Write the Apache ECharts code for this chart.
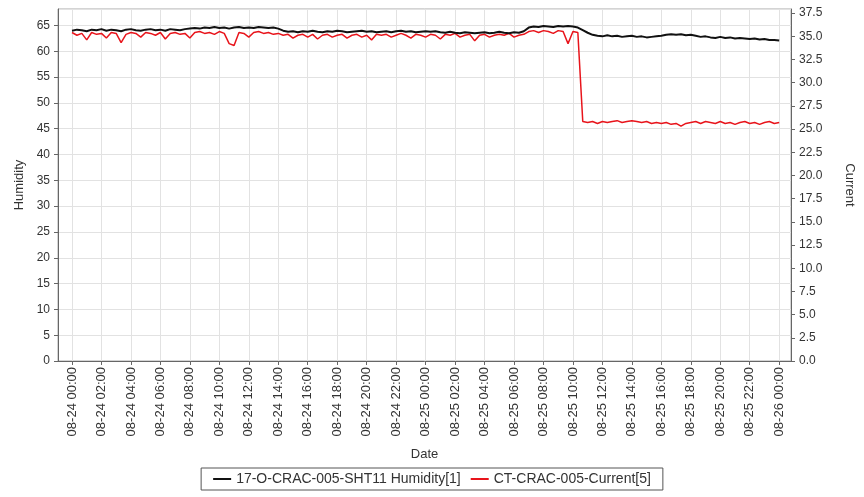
<!DOCTYPE html>
<html>
<head>
<meta charset="utf-8">
<script src="https://cdn.jsdelivr.net/npm/echarts@6/dist/echarts.min.js"></script>
<style>html,body{margin:0;padding:0;background:#fff;}#c{width:864px;height:497px;}</style>
</head>
<body>
<div id="c"></div>
<script>
// Sample times: every 20 minutes from 08-24 00:00 (hours since start)
const stepHours = 1 / 3;
const seriesNames = ['17-O-CRAC-005-SHT11 Humidity[1]', 'CT-CRAC-005-Current[5]'];
const xTickHours = [0,2,4,6,8,10,12,14,16,18,20,22,24,26,28,30,32,34,36,38,40,42,44,46,48];
const humidity = [
  64.0,64.2,64.1,63.9,64.2,64.1,64.3,64.0,64.2,64.1,63.9,64.2,64.3,64.1,64.0,64.2,64.3,64.1,64.2,64.0,64.3,64.2,64.1,64.3,64.4,
  64.5,64.4,64.6,64.5,64.7,64.5,64.6,64.4,64.6,64.7,64.5,64.6,64.5,64.7,64.6,64.5,64.6,64.4,
  64.0,63.8,63.9,63.7,63.9,63.8,64.0,63.8,63.7,63.9,
  63.8,64.0,63.9,63.7,63.8,63.9,64.0,63.8,63.9,63.7,
  63.8,63.9,63.7,63.9,64.0,63.8,63.9,63.7,63.8,63.9,
  63.8,63.9,63.7,63.6,63.8,63.6,63.5,63.7,63.6,63.5,
  63.6,63.7,63.5,63.6,63.8,63.6,63.5,63.7,63.6,63.9,
  64.6,64.8,64.7,64.9,64.8,64.7,64.9,64.8,64.9,64.8,
  64.6,64.1,63.6,
  63.2,63.0,62.9,63.1,62.9,63.0,62.8,62.9,63.0,62.8,62.9,62.7,62.8,62.9,63.0,
  63.2,63.3,63.2,63.3,63.1,63.2,
  63.0,62.8,62.9,62.7,62.6,62.8,62.6,62.7,62.5,62.6,62.5,62.4,62.5,62.3,62.4,62.2,62.2,62.1
];
const current = [
  35.4,35.1,35.3,34.6,35.4,35.2,35.3,34.8,35.4,35.3,
  34.3,35.2,35.4,35.3,34.9,35.4,35.3,35.1,35.4,34.7,
  35.3,35.4,35.2,35.3,34.8,35.4,35.5,35.3,35.4,35.2,
  35.5,35.3,34.2,34.0,35.4,35.3,34.9,35.4,35.5,35.3,35.4,35.2,35.3,
  35.1,35.2,34.8,35.1,35.2,34.9,35.2,34.7,35.1,35.2,
  34.9,35.1,35.2,34.8,35.1,35.2,34.9,35.1,34.6,35.2,
  35.1,35.2,34.9,35.1,35.3,35.1,34.8,35.2,35.1,34.9,
  35.2,35.1,34.7,35.2,35.1,35.3,34.9,35.1,35.2,34.5,
  35.1,35.2,34.9,35.1,35.2,35.1,35.3,34.9,35.1,35.2,
  35.5,35.6,35.4,35.6,35.5,35.3,35.6,35.5,34.2,35.5,35.4,
  25.8,25.7,25.8,25.6,25.8,25.7,25.8,25.9,25.7,25.8,
  25.9,25.8,25.7,25.8,25.6,25.7,25.6,25.7,25.5,25.6,
  25.3,25.6,25.7,25.8,25.6,25.8,25.7,25.6,25.8,25.6,
  25.7,25.5,25.7,25.8,25.6,25.7,25.5,25.7,25.8,25.6,25.7
];

function pairs(vals) { return vals.map((v, i) => [i * stepHours, v]); }
function fmtTick(h) {
  const day = 24 + Math.floor(h / 24);
  const hh = h % 24;
  return '08-' + day + ' ' + (hh < 10 ? '0' : '') + hh + ':00';
}
const txt = '#333';
const chart = echarts.init(document.getElementById('c'));
chart.setOption({
  animation: false,
  backgroundColor: '#fff',
  textStyle: { fontFamily: 'Liberation Sans, Arial, sans-serif' },
  grid: { left: 58, right: 72, top: 9, bottom: 136, show: true, borderColor: '#a8a8a8', borderWidth: 1, containLabel: false },
  legend: {
    data: seriesNames,
    top: 468, left: 'center',
    itemWidth: 18, itemHeight: 2, icon: 'rect', itemGap: 10,
    borderColor: '#555', borderWidth: 1, padding: [4, 12],
    textStyle: { fontSize: 14, color: txt }
  },
  xAxis: {
    type: 'value', min: -0.95, max: 48.8,
    name: 'Date', nameLocation: 'middle', nameGap: 87,
    nameTextStyle: { fontSize: 13, color: txt },
    axisLine: { show: true, onZero: false, lineStyle: { color: '#666' } },
    axisTick: { show: true, customValues: xTickHours, length: 4, lineStyle: { color: '#666' } },
    axisLabel: { customValues: xTickHours, rotate: 90, fontSize: 13, color: txt, formatter: v => fmtTick(v), margin: 6 },
    splitLine: { show: true, lineStyle: { color: '#e2e2e2', width: 1 } }
  },
  yAxis: [
    {
      type: 'value', min: 0, max: 68.2, interval: 5,
      name: 'Humidity', nameLocation: 'middle', nameGap: 32, nameRotate: 90,
      nameTextStyle: { fontSize: 13, color: txt },
      axisLine: { show: true, onZero: false, lineStyle: { color: '#666' } },
      axisTick: { show: true, length: 4, lineStyle: { color: '#666' } },
      axisLabel: { fontSize: 12, color: txt, showMaxLabel: false, margin: 8 },
      splitLine: { show: true, lineStyle: { color: '#e2e2e2', width: 1 } }
    },
    {
      type: 'value', min: 0, max: 37.93, interval: 2.5, position: 'right',
      name: 'Current', nameLocation: 'middle', nameGap: 52, nameRotate: -90,
      nameTextStyle: { fontSize: 13, color: txt },
      axisLine: { show: true, onZero: false, lineStyle: { color: '#666' } },
      axisTick: { show: true, length: 4, lineStyle: { color: '#666' } },
      axisLabel: { fontSize: 12, color: txt, showMaxLabel: false, margin: 8, formatter: v => v.toFixed(1) },
      splitLine: { show: false }
    }
  ],
  series: [
    {
      name: seriesNames[0], type: 'line', yAxisIndex: 0, data: pairs(humidity),
      showSymbol: false, symbol: 'none', z: 3,
      lineStyle: { color: '#111', width: 2 }, itemStyle: { color: '#111' }
    },
    {
      name: seriesNames[1], type: 'line', yAxisIndex: 1, data: pairs(current),
      showSymbol: false, symbol: 'none', z: 2,
      lineStyle: { color: '#e8141b', width: 1.5 }, itemStyle: { color: '#e8141b' }
    }
  ]
});
</script>
</body>
</html>
